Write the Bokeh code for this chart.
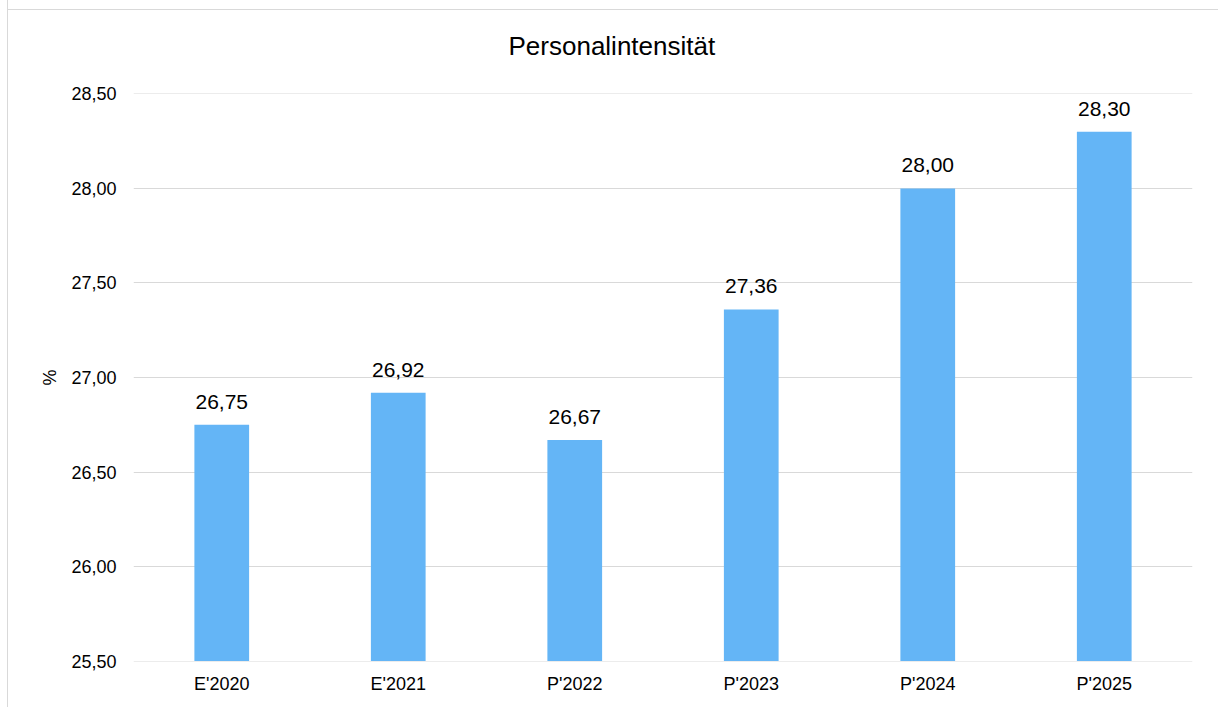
from bokeh.plotting import figure
from bokeh.models import ColumnDataSource, Range1d, FixedTicker, CustomJSTickFormatter
from bokeh.core.properties import value
from bokeh.embed import file_html
from bokeh.resources import INLINE

# ---- data ----
categories = ["E'2020", "E'2021", "P'2022", "P'2023", "P'2024", "P'2025"]
values = [26.75, 26.92, 26.67, 27.36, 28.00, 28.30]
y_ticks = [25.5, 26.0, 26.5, 27.0, 27.5, 28.0, 28.5]
title_text = "Personalintensität"
y_label = "%"

FONT = "Liberation Sans"
BAR_COLOR = "#64B5F6"
GRID_COLOR = "#d9d9d9"

y_min, y_max = y_ticks[0], y_ticks[-1]

p = figure(
    x_range=categories,
    y_range=Range1d(y_min - 0.002, y_max + 0.002),
    width=1211, height=713,
    output_backend="svg",
    toolbar_location=None,
    min_border_left=125, min_border_right=27,
    min_border_top=99, min_border_bottom=46,
)
p.styles = {"border-left": "1px solid #d9d9d9",
            "margin-left": "7px", "margin-top": "-6px",
            "box-shadow": "inset 0 15px 0 0 #ffffff, inset 0 16px 0 0 #d9d9d9"}
p.outline_line_color = None
p.background_fill_color = "white"
p.border_fill_color = "white"
p.border_fill_alpha = 0

# title
p.title.text = title_text
p.title.align = "left"
p.title.offset = 375
p.title.vertical_align = "bottom"
p.title.text_font = FONT
p.title.text_font_size = "26px"
p.title.text_font_style = "normal"
p.title.text_color = "#000000"
p.title.standoff = 66

labels = [f"{v:.2f}".replace(".", ",") for v in values]
src = ColumnDataSource(dict(x=categories, top=values, lab=labels))

p.vbar(x="x", top="top", bottom=y_min, width=0.31, source=src,
       fill_color=BAR_COLOR, line_color=None)

p.text(x="x", y="top", text="lab", source=src,
       text_font=value(FONT), text_font_size="21px", text_color="#000000",
       text_align="center", text_baseline="alphabetic", y_offset=-23)

# axes
p.xgrid.grid_line_color = None
p.ygrid.grid_line_color = GRID_COLOR
p.ygrid.grid_line_width = 1
p.yaxis.ticker = FixedTicker(ticks=y_ticks)
p.yaxis.formatter = CustomJSTickFormatter(code="return tick.toFixed(2).replace('.', ',');")
for ax in (p.xaxis[0], p.yaxis[0]):
    ax.axis_line_color = None
    ax.major_tick_line_color = None
    ax.minor_tick_line_color = None
    ax.major_tick_out = 0
    ax.major_tick_in = 0
    ax.minor_tick_out = 0
    ax.major_label_text_font = FONT
    ax.major_label_text_font_size = "18px"
    ax.major_label_text_color = "#000000"
p.yaxis.major_label_standoff = 17
p.xaxis.major_label_standoff = 12

p.yaxis.axis_label = y_label
p.yaxis.axis_label_text_font = FONT
p.yaxis.axis_label_text_font_size = "18px"
p.yaxis.axis_label_text_font_style = "normal"
p.yaxis.axis_label_text_color = "#000000"
p.yaxis.axis_label_standoff = 8

open("out.html", "w").write(file_html(p, INLINE))
